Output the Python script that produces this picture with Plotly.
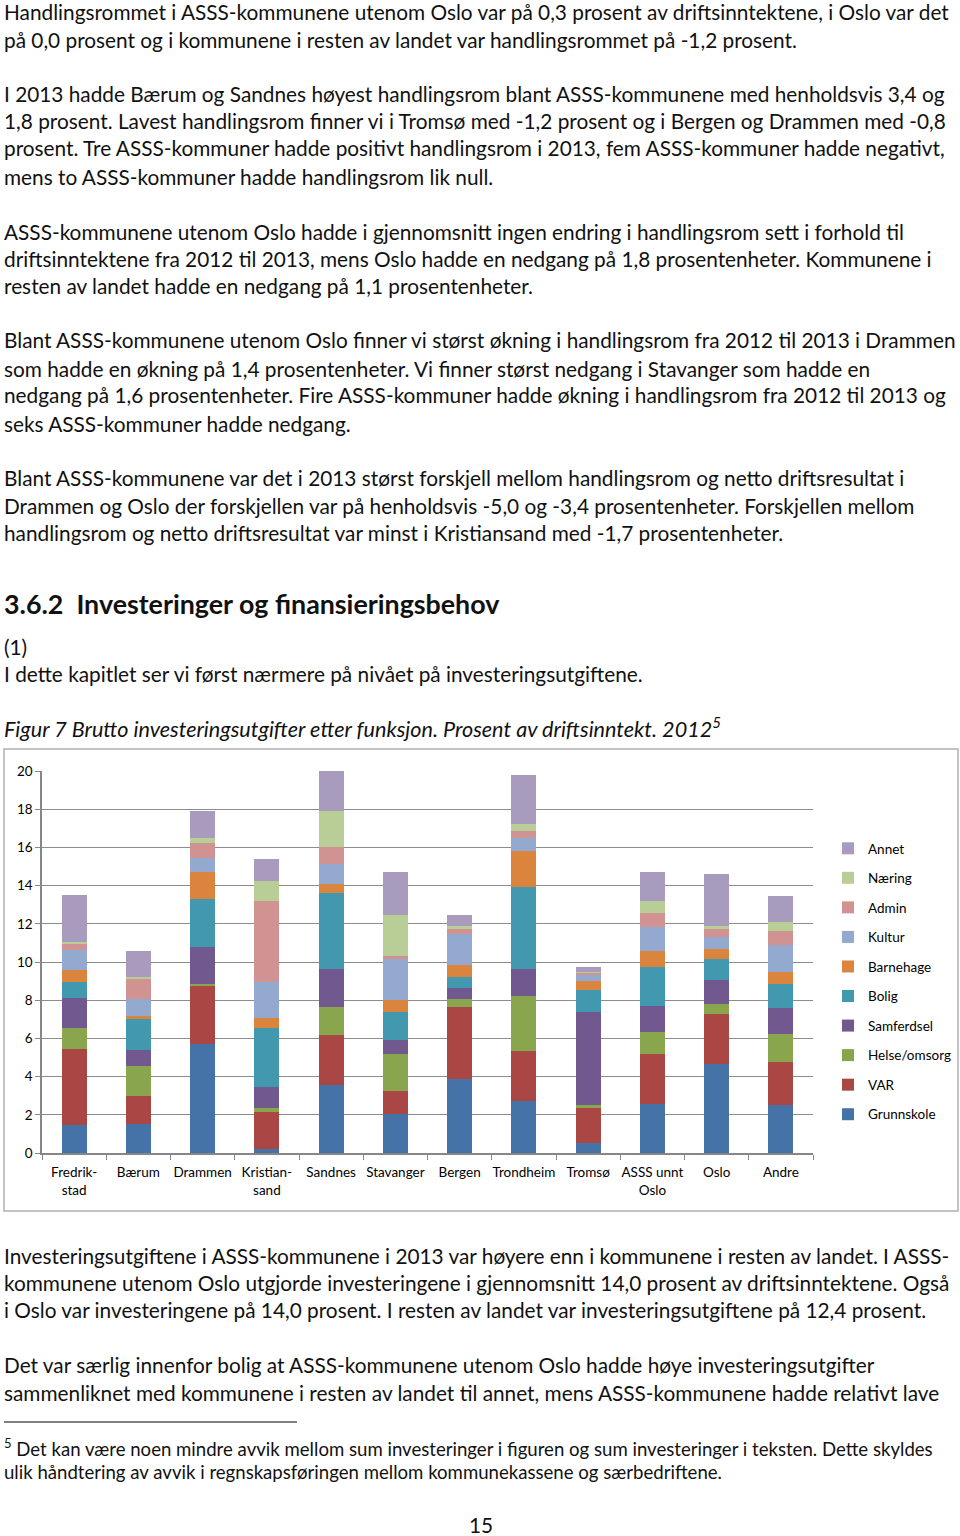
import plotly.graph_objects as go

W, H = 960, 1536

categories = ["Fredrik-<br>stad", "Bærum", "Drammen", "Kristian-<br>sand", "Sandnes", "Stavanger",
              "Bergen", "Trondheim", "Tromsø", "ASSS unnt<br>Oslo", "Oslo", "Andre"]

grunnskole = [1.48, 1.53, 5.72, 0.21, 3.57, 2.04, 3.87, 2.70, 0.52, 2.58, 4.67, 2.49]
var_ = [3.98, 1.43, 3.03, 1.92, 2.59, 1.19, 3.75, 2.65, 1.83, 2.60, 2.62, 2.27]
helse = [1.08, 1.57, 0.09, 0.22, 1.46, 1.97, 0.44, 2.88, 0.16, 1.18, 0.52, 1.46]
samferdsel = [1.60, 0.84, 1.97, 1.10, 2.01, 0.73, 0.59, 1.40, 4.85, 1.36, 1.26, 1.36]
bolig = [0.80, 1.64, 2.48, 3.12, 3.97, 1.43, 0.56, 4.29, 1.15, 2.04, 1.10, 1.28]
barnehage = [0.62, 0.14, 1.44, 0.49, 0.50, 0.66, 0.64, 1.87, 0.47, 0.79, 0.52, 0.61]
kultur = [1.08, 0.91, 0.70, 1.88, 1.04, 2.15, 1.62, 0.69, 0.35, 1.27, 0.61, 1.43]
admin = [0.35, 1.09, 0.79, 4.28, 0.86, 0.16, 0.30, 0.39, 0.12, 0.77, 0.47, 0.70]
naering = [0.05, 0.06, 0.26, 1.04, 1.91, 2.12, 0.09, 0.36, 0.05, 0.58, 0.09, 0.47]
annet = [2.47, 1.36, 1.43, 1.15, 2.09, 2.28, 0.61, 2.56, 0.26, 1.53, 2.76, 1.41]

series_names = ["Grunnskole", "VAR", "Helse/omsorg", "Samferdsel", "Bolig",
                "Barnehage", "Kultur", "Admin", "Næring", "Annet"]
series_values = [grunnskole, var_, helse, samferdsel, bolig, barnehage, kultur, admin, naering, annet]
colors = ["#4572A7", "#AA4643", "#89A54E", "#71588F", "#4198AF",
          "#DB843D", "#93A9CF", "#D19392", "#B9CD96", "#A99BBD"]

text_above = [
    (12, "Handlingsrommet i ASSS-kommunene utenom Oslo var på 0,3 prosent av driftsinntektene, i Oslo var det"),
    (40, "på 0,0 prosent og i kommunene i resten av landet var handlingsrommet på -1,2 prosent."),
    (94, "I 2013 hadde Bærum og Sandnes høyest handlingsrom blant ASSS-kommunene med henholdsvis 3,4 og"),
    (122, "1,8 prosent. Lavest handlingsrom finner vi i Tromsø med -1,2 prosent og i Bergen og Drammen med -0,8"),
    (149, "prosent. Tre ASSS-kommuner hadde positivt handlingsrom i 2013, fem ASSS-kommuner hadde negativt,"),
    (177, "mens to ASSS-kommuner hadde handlingsrom lik null."),
    (232, "ASSS-kommunene utenom Oslo hadde i gjennomsnitt ingen endring i handlingsrom sett i forhold til"),
    (259, "driftsinntektene fra 2012 til 2013, mens Oslo hadde en nedgang på 1,8 prosentenheter. Kommunene i"),
    (287, "resten av landet hadde en nedgang på 1,1 prosentenheter."),
    (341, "Blant ASSS-kommunene utenom Oslo finner vi størst økning i handlingsrom fra 2012 til 2013 i Drammen"),
    (369, "som hadde en økning på 1,4 prosentenheter. Vi finner størst nedgang i Stavanger som hadde en"),
    (396, "nedgang på 1,6 prosentenheter. Fire ASSS-kommuner hadde økning i handlingsrom fra 2012 til 2013 og"),
    (424, "seks ASSS-kommuner hadde nedgang."),
    (478, "Blant ASSS-kommunene var det i 2013 størst forskjell mellom handlingsrom og netto driftsresultat i"),
    (506, "Drammen og Oslo der forskjellen var på henholdsvis -5,0 og -3,4 prosentenheter. Forskjellen mellom"),
    (533, "handlingsrom og netto driftsresultat var minst i Kristiansand med -1,7 prosentenheter."),
    (647, "(1)"),
    (674, "I dette kapitlet ser vi først nærmere på nivået på investeringsutgiftene."),
    (1256, "Investeringsutgiftene i ASSS-kommunene i 2013 var høyere enn i kommunene i resten av landet. I ASSS-"),
    (1283, "kommunene utenom Oslo utgjorde investeringene i gjennomsnitt 14,0 prosent av driftsinntektene. Også"),
    (1310, "i Oslo var investeringene på 14,0 prosent. I resten av landet var investeringsutgiftene på 12,4 prosent."),
    (1365, "Det var særlig innenfor bolig at ASSS-kommunene utenom Oslo hadde høye investeringsutgifter"),
    (1393, "sammenliknet med kommunene i resten av landet til annet, mens ASSS-kommunene hadde relativt lave"),
]
footnotes = [
    (1448, "<sup>5</sup> Det kan være noen mindre avvik mellom sum investeringer i figuren og sum investeringer i teksten. Dette skyldes"),
    (1473, "ulik håndtering av avvik i regnskapsføringen mellom kommunekassene og særbedriftene."),
]

FONT = "Lato"
TXT = "#111111"
DY = 1  # small nudge: Lato sits a bit low in its annotation box


def px(x):
    return x / W


def py(y):
    return 1 - y / H


def note(x, y, text, size, anchor="left", pad=DY):
    return dict(x=px(x), y=py(y - pad), xref="paper", yref="paper", text=text, showarrow=False,
                xanchor=anchor, yanchor="middle", font=dict(family=FONT, size=size, color=TXT))


fig = go.Figure()
for i, (name, vals, c) in enumerate(zip(series_names, series_values, colors)):
    fig.add_trace(go.Bar(x=categories, y=vals, name=name, marker=dict(color=c, line=dict(width=0)),
                         legendgroup=name, legendrank=100 - i))

annotations = [note(2, y, t, 20.8) for y, t in text_above]
annotations += [note(2, y, t, 18.6) for y, t in footnotes]
annotations.append(note(2, 604, "<b>3.6.2  Investeringer og finansieringsbehov</b>", 26.8, pad=0))
annotations.append(note(2, 729, "<i>Figur 7 Brutto investeringsutgifter etter funksjon. Prosent av driftsinntekt. 2012<sup>5</sup></i>",
                        21.6, pad=2))
annotations.append(note(481, 1525, "15", 20.8, anchor="center"))

shapes = [
    dict(type="rect", xref="paper", yref="paper", x0=px(4), x1=px(958), y0=py(1211), y1=py(749),
         line=dict(color="#b0b0b0", width=1.5), fillcolor="rgba(0,0,0,0)", layer="below"),
    dict(type="line", xref="paper", yref="paper", x0=px(4), x1=px(297), y0=py(1422), y1=py(1422),
         line=dict(color="#000000", width=1)),
]

fig.update_layout(
    width=W, height=H,
    barmode="stack",
    bargap=0.61,
    paper_bgcolor="white",
    plot_bgcolor="white",
    margin=dict(l=0, r=0, t=0, b=0, autoexpand=False),
    font=dict(family=FONT, size=14, color="#000000"),
    annotations=annotations,
    shapes=shapes,
    showlegend=True,
    legend=dict(x=px(828), y=py(833), xanchor="left", yanchor="top", traceorder="grouped",
                tracegroupgap=9, font=dict(family=FONT, size=13.5, color="#000000"),
                bgcolor="rgba(0,0,0,0)", itemwidth=30),
    xaxis=dict(domain=[px(42), px(813)], showline=True, linecolor="#868686", linewidth=1.5,
               ticks="outside", tickson="boundaries", ticklen=5, tickcolor="#868686", tickangle=0,
               ticklabelstandoff=6, automargin=False,
               tickfont=dict(family=FONT, size=13.5, color="#000000"), showgrid=False),
    yaxis=dict(domain=[py(1153), py(771)], range=[0, 20], dtick=2, showline=True, linecolor="#868686",
               linewidth=1.5, ticks="outside", ticklen=5, tickcolor="#868686", gridcolor="#8c8c8c",
               gridwidth=1, zeroline=False, automargin=False,
               tickfont=dict(family=FONT, size=13.5, color="#000000")),
)

fig.write_html("out.html", config={"displayModeBar": False},
               post_script="document.body.style.margin='0';")
